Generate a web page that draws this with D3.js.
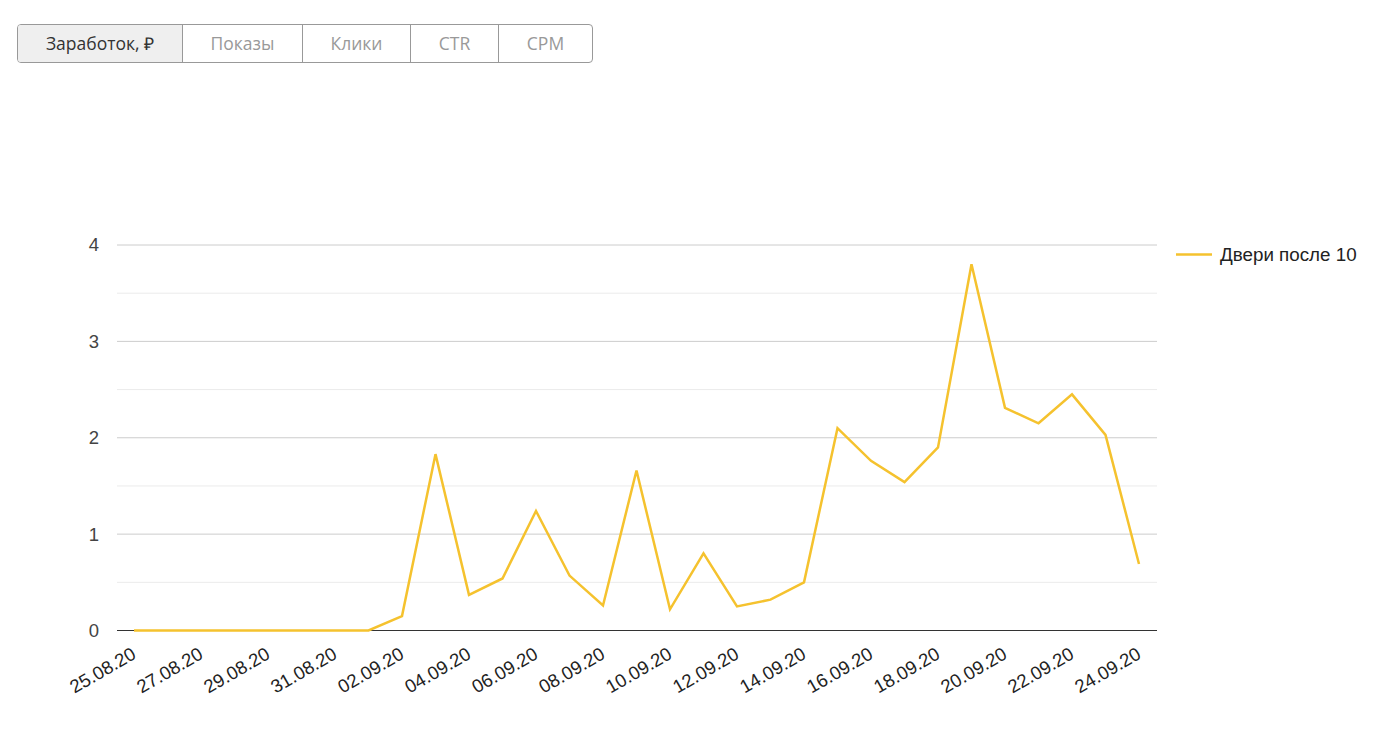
<!DOCTYPE html>
<html><head><meta charset="utf-8">
<script src="https://cdn.jsdelivr.net/npm/d3@7"></script>
<style>
body{margin:0;background:#fff;}
.tabs{position:absolute;left:17px;top:24px;display:flex;border:1px solid #999;border-radius:4px;overflow:hidden;font-family:"Open Sans",sans-serif;font-size:17.5px;}
.tabs div{height:37px;line-height:37px;text-align:center;color:#999;border-left:1px solid #999;box-sizing:border-box;}
.tabs div:first-child{border-left:none;background:#efefef;color:#333;}
svg{position:absolute;left:0;top:0;}
</style></head>
<body>
<div class="tabs" id="tabs"></div>
<svg id="chart" width="1379" height="739"></svg>
<script>
const tabs = ["Заработок, ₽","Показы","Клики","CTR","CPM"];
const tabWidths = [164,120,108,88,94];
const dates = ["25.08.20","26.08.20","27.08.20","28.08.20","29.08.20","30.08.20","31.08.20","01.09.20","02.09.20","03.09.20","04.09.20","05.09.20","06.09.20","07.09.20","08.09.20","09.09.20","10.09.20","11.09.20","12.09.20","13.09.20","14.09.20","15.09.20","16.09.20","17.09.20","18.09.20","19.09.20","20.09.20","21.09.20","22.09.20","23.09.20","24.09.20"];
const values = [0,0,0,0,0,0,0,0,0.15,1.83,0.37,0.54,1.24,0.57,0.26,1.66,0.22,0.80,0.25,0.32,0.50,2.10,1.76,1.54,1.90,3.80,2.31,2.15,2.45,2.03,0.69];
const seriesName = "Двери после 10";
const yTicks = [0,1,2,3,4];
const yMinor = [0.5,1.5,2.5,3.5];

d3.select("#tabs").selectAll("div").data(tabs).enter().append("div")
  .style("width",(d,i)=>tabWidths[i]+"px").text(d=>d);

const svg = d3.select("#chart");
const parse = d3.timeParse("%d.%m.%y");
const pts = dates.map((d,i)=>({date:parse(d),v:values[i]}));
const x = d3.scaleTime().domain(d3.extent(pts,d=>d.date)).range([134,1139]);
const y = d3.scaleLinear().domain([0,4]).range([630.5,245]);
const left=117,right=1157;
const font = "'Liberation Sans',Arial,sans-serif";

svg.append("g").selectAll("line").data(yMinor).enter().append("line")
  .attr("x1",left).attr("x2",right).attr("y1",d=>y(d)).attr("y2",d=>y(d))
  .attr("stroke","#ebebeb").attr("stroke-width",1);
svg.append("g").selectAll("line").data(yTicks.filter(d=>d>0)).enter().append("line")
  .attr("x1",left).attr("x2",right).attr("y1",d=>y(d)).attr("y2",d=>y(d))
  .attr("stroke","#cccccc").attr("stroke-width",1);
svg.append("g").selectAll("text").data(yTicks).enter().append("text")
  .attr("x",99).attr("y",d=>y(d)).attr("dy","0.35em").attr("text-anchor","end")
  .attr("font-family",font).attr("font-size",18.5).attr("fill","#444").text(d=>d);

const tickDates = pts.filter((d,i)=>i%2===0).map(d=>d.date);
const fmt = d3.timeFormat("%d.%m.%y");
svg.append("g").selectAll("text").data(tickDates).enter().append("text")
  .attr("transform",d=>`translate(${x(d)},652) rotate(-30)`)
  .attr("text-anchor","end").attr("dy","0.35em")
  .attr("font-family",font).attr("font-size",18.6).attr("fill","#222").text(d=>fmt(d));

svg.append("line").attr("x1",left).attr("x2",right).attr("y1",y(0)).attr("y2",y(0))
  .attr("stroke","#333").attr("stroke-width",1);

const line = d3.line().x(d=>x(d.date)).y(d=>y(d.v));
svg.append("path").datum(pts).attr("d",line).attr("fill","none")
  .attr("stroke","#f5c22e").attr("stroke-width",2.5).attr("stroke-linejoin","miter");

svg.append("line").attr("x1",1176).attr("x2",1212).attr("y1",254.5).attr("y2",254.5)
  .attr("stroke","#f5c22e").attr("stroke-width",2.5);
svg.append("text").attr("x",1220).attr("y",254.5).attr("dy","0.35em")
  .attr("font-family",font).attr("font-size",18.8).attr("fill","#222").text(seriesName);
</script>
</body></html>
